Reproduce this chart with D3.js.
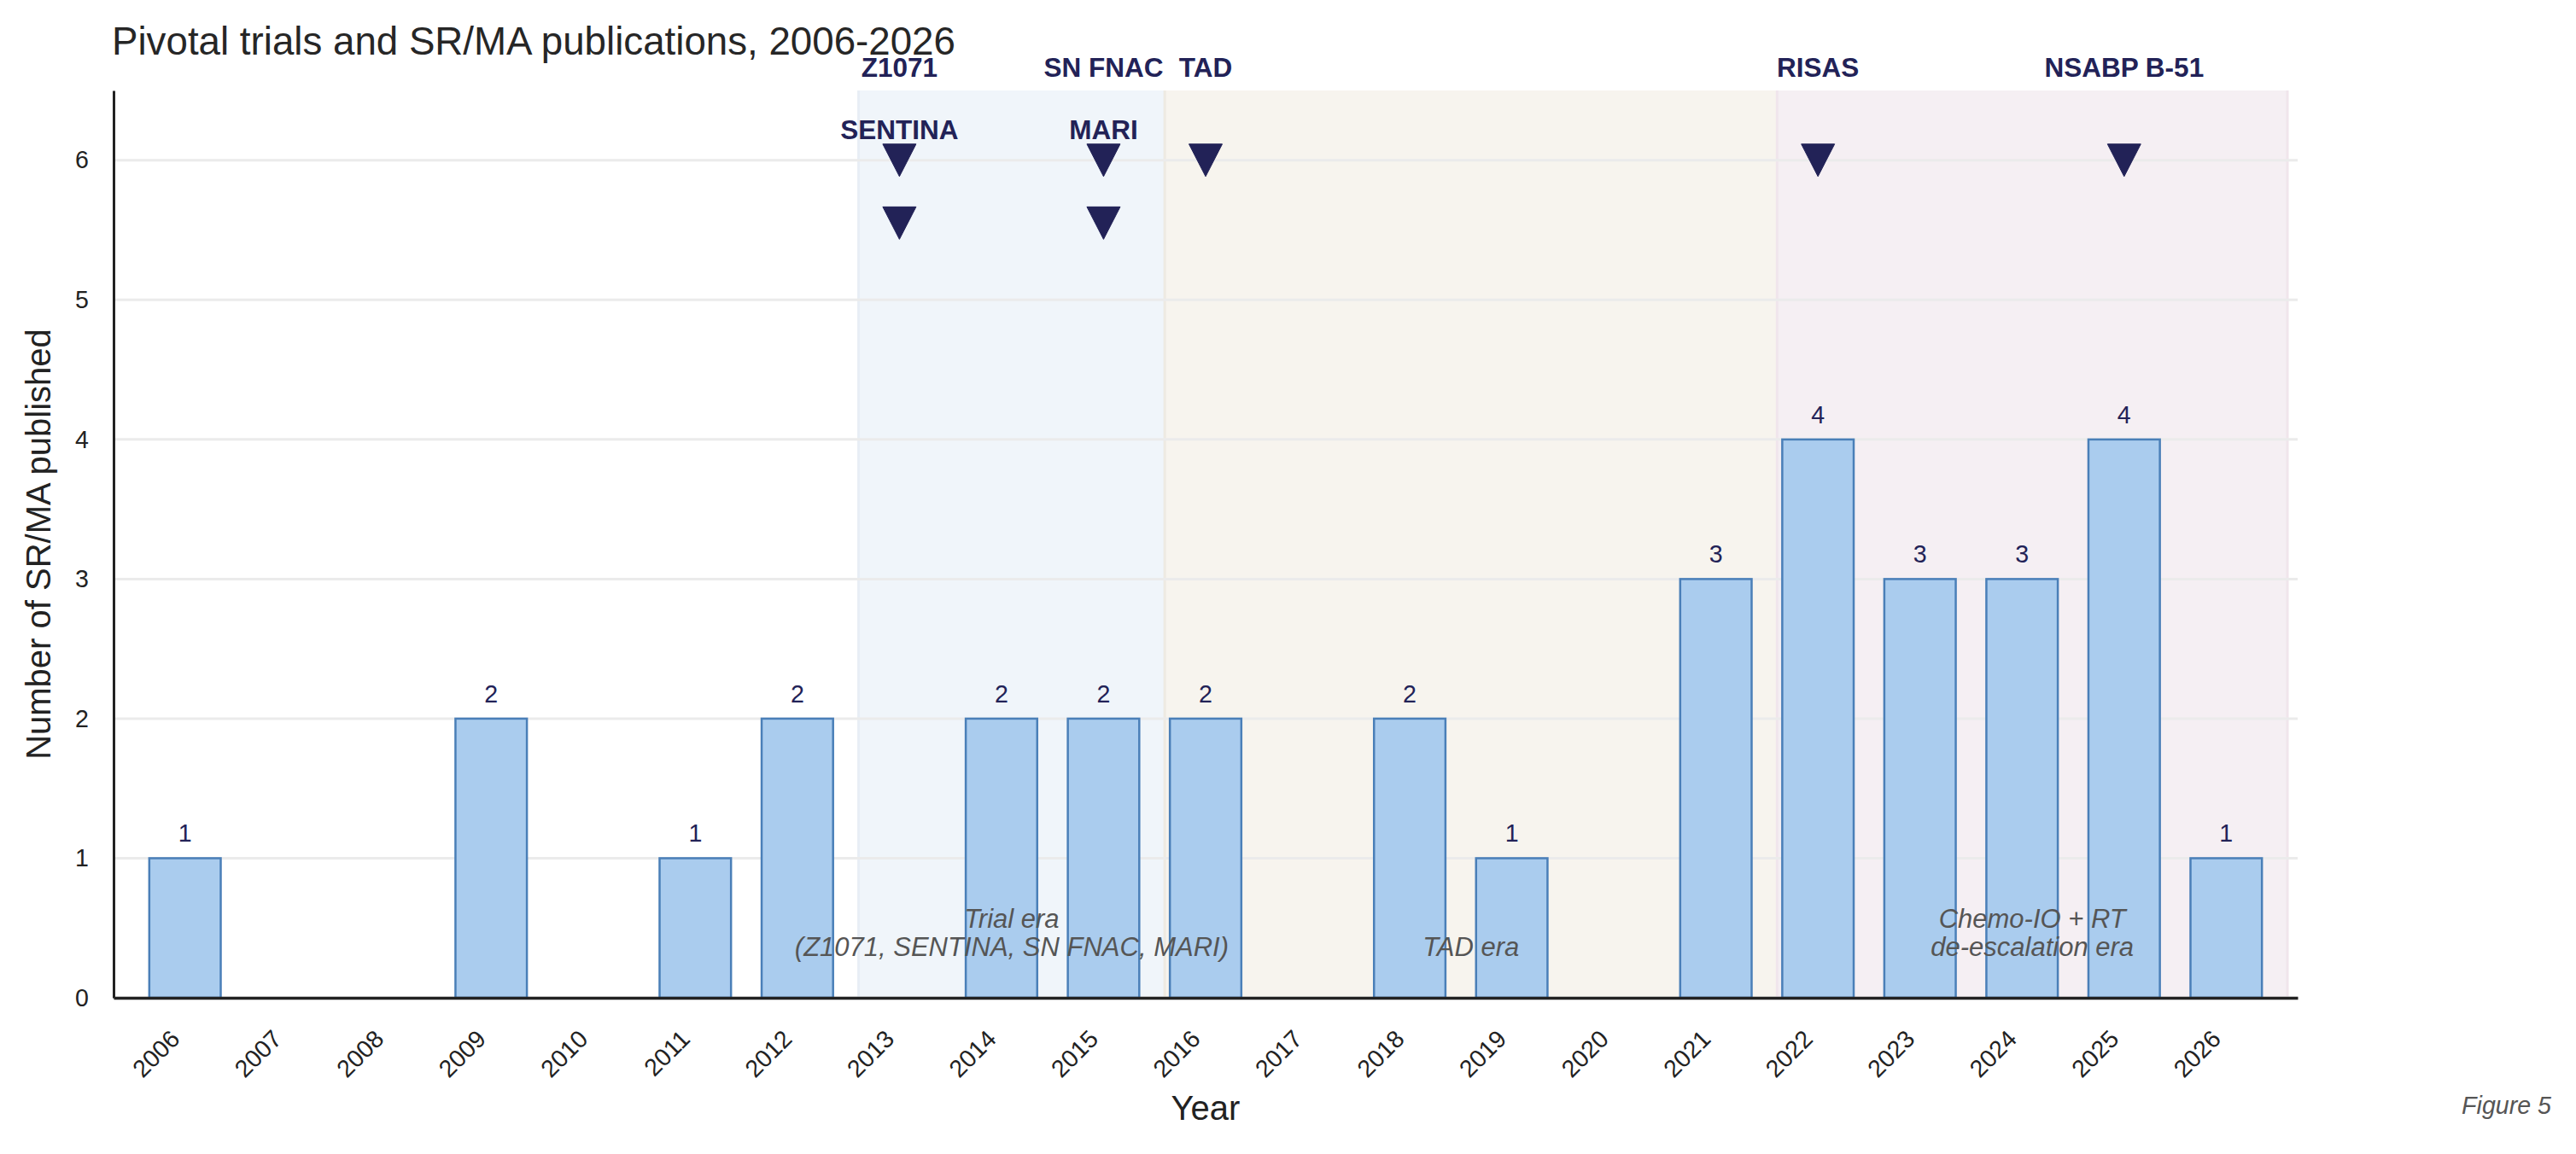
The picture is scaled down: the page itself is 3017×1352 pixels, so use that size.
<!DOCTYPE html>
<html>
<head>
    <title>Pivotal trials and SR/MA publications</title>
    <style>
        body { margin: 0; background: white; }
        svg { font-family: 'Liberation Sans', Arial, sans-serif; }
        .bar { fill: #aaccee; stroke: #4a7fb8; stroke-width: 2.5; }
        .grid line { stroke: #ebebeb; stroke-width: 3; }
    </style>
</head>
<body>
    <div id="chart"></div>

    <script src="https://cdn.jsdelivr.net/npm/d3@7"></script>
    <script>
        // data
        const years = [2006, 2007, 2008, 2009, 2010, 2011, 2012, 2013, 2014, 2015, 2016,
                       2017, 2018, 2019, 2020, 2021, 2022, 2023, 2024, 2025, 2026];
        const srmaCounts = [1, 0, 0, 2, 0, 1, 2, 0, 2, 2, 2, 0, 2, 1, 0, 3, 4, 3, 3, 4, 1];
        const yTicks = [0, 1, 2, 3, 4, 5, 6];

        const trialNames = ["Z1071", "SENTINA", "SN FNAC", "MARI", "TAD", "RISAS", "NSABP B-51"];
        const trialYears = [2013, 2013, 2015, 2015, 2016, 2022, 2025];
        const trialLevels = [6, 5.55, 6, 5.55, 6, 6, 6];

        const eraStart = [2012.6, 2015.6, 2021.6];
        const eraEnd = [2015.6, 2021.6, 2026.6];
        const eraLabels = [
            ["Trial era", "(Z1071, SENTINA, SN FNAC, MARI)"],
            ["TAD era"],
            ["Chemo-IO + RT", "de-escalation era"]
        ];
        const eraFill = ["#f0f5fa", "#f7f4ee", "#f5eff3"];
        const eraEdge = ["#e8eef5", "#eeeae2", "#f0e5ec"];

        const [width, height] = [3017, 1352];
        const margin = {top: 106, right: 326, bottom: 183, left: 133};
        const innerW = width - margin.left - margin.right;
        const innerH = height - margin.top - margin.bottom;
        const navy = "#222257";

        const svg = d3.select("#chart")
                        .append("svg")
                        .attr("width", width)
                        .attr("height", height);

        svg.append("rect").attr("width", width).attr("height", height).attr("fill", "white");

        const g = svg.append("g")
                    .attr("transform", `translate(${margin.left}, ${margin.top})`);

        // scales
        const x = d3.scaleLinear()
                    .domain([2005.3, 2026.7])
                    .range([0, innerW]);
        const y = d3.scaleLinear()
                    .domain([0, 6.5])
                    .range([innerH, 0]);
        const barW = x(2006.7) - x(2006);

        svg.append("defs").append("clipPath").attr("id", "plotClip")
            .append("rect").attr("width", innerW).attr("height", innerH);

        // era shading
        g.append("g").attr("clip-path", "url(#plotClip)")
            .selectAll("rect")
            .data(eraStart)
            .join("rect")
            .attr("x", (d, i) => x(d))
            .attr("y", -5)
            .attr("width", (d, i) => x(eraEnd[i]) - x(d))
            .attr("height", innerH + 10)
            .attr("fill", (d, i) => eraFill[i])
            .attr("stroke", (d, i) => eraEdge[i])
            .attr("stroke-width", 3);

        // grid
        g.append("g").attr("class", "grid")
            .selectAll("line")
            .data(yTicks)
            .join("line")
            .attr("x1", 0).attr("x2", innerW)
            .attr("y1", d => y(d)).attr("y2", d => y(d));

        // bars
        const barData = years.map((yr, i) => ({year: yr, n: srmaCounts[i]})).filter(d => d.n > 0);

        g.selectAll(".bar")
            .data(barData)
            .join("rect")
            .attr("class", "bar")
            .attr("x", d => x(d.year) - barW / 2)
            .attr("width", barW)
            .attr("y", d => y(d.n))
            .attr("height", d => innerH - y(d.n));

        g.selectAll(".val")
            .data(barData)
            .join("text")
            .attr("class", "val")
            .attr("x", d => x(d.year))
            .attr("y", d => y(d.n) - 19)
            .attr("text-anchor", "middle")
            .attr("font-size", 28.6)
            .attr("fill", navy)
            .text(d => d.n);

        // era labels
        eraLabels.forEach((lines, i) => {
            const cx = (x(eraStart[i]) + x(eraEnd[i])) / 2;
            const base = y(0.3);
            lines.forEach((t, j) => {
                g.append("text")
                    .attr("x", cx)
                    .attr("y", base - (lines.length - 1 - j) * 33)
                    .attr("text-anchor", "middle")
                    .attr("font-size", 31)
                    .attr("font-style", "italic")
                    .attr("fill", "#555")
                    .text(t);
            });
        });

        // trial markers (downward triangles) and names
        trialNames.forEach((name, i) => {
            const cx = x(trialYears[i]);
            const cy = y(trialLevels[i]);
            g.append("path")
                .attr("d", `M${cx - 19.5},${cy - 19} L${cx + 19.5},${cy - 19} L${cx},${cy + 19} Z`)
                .attr("fill", navy)
                .attr("stroke", navy)
                .attr("stroke-width", 1)
                .attr("stroke-linejoin", "round");
            g.append("text")
                .attr("x", cx)
                .attr("y", cy - 98)
                .attr("text-anchor", "middle")
                .attr("font-size", 31.5)
                .attr("font-weight", "bold")
                .attr("fill", navy)
                .text(name);
        });

        // axes
        const yAxis = d3.axisLeft(y).tickValues(yTicks).tickFormat(d3.format("d"))
                        .tickSize(0).tickPadding(29);
        const xAxis = d3.axisBottom(x).tickValues(years).tickFormat(d3.format("d")).tickSize(0);

        const gy = g.append("g").call(yAxis);
        gy.select(".domain").attr("stroke", "#222").attr("stroke-width", 3);
        gy.selectAll("text").attr("font-size", 28.6).attr("fill", "#222")
            .attr("font-family", "'Liberation Sans', Arial, sans-serif");

        const gx = g.append("g").attr("transform", `translate(0, ${innerH})`).call(xAxis);
        gx.select(".domain").attr("stroke", "#222").attr("stroke-width", 3.3);
        gx.selectAll("text")
            .attr("font-size", 28.6).attr("fill", "#222")
            .attr("font-family", "'Liberation Sans', Arial, sans-serif")
            .attr("y", null).attr("dy", null)
            .attr("text-anchor", "end")
            .attr("transform", "translate(-5, 50) rotate(-45)");

        // titles
        svg.append("text")
            .attr("x", 131).attr("y", 64)
            .attr("font-size", 45.7)
            .attr("fill", "#262626")
            .text("Pivotal trials and SR/MA publications, 2006-2026");

        svg.append("text")
            .attr("x", margin.left + innerW / 2).attr("y", 1312)
            .attr("text-anchor", "middle")
            .attr("font-size", 40)
            .attr("fill", "#222")
            .text("Year");

        svg.append("text")
            .attr("transform", `translate(59, ${margin.top + innerH / 2}) rotate(-90)`)
            .attr("text-anchor", "middle")
            .attr("font-size", 40)
            .attr("fill", "#222")
            .text("Number of SR/MA published");

        svg.append("text")
            .attr("x", 2988).attr("y", 1305)
            .attr("text-anchor", "end")
            .attr("font-size", 28.6)
            .attr("font-style", "italic")
            .attr("fill", "#555")
            .text("Figure 5");
    </script>
</body>
</html>
